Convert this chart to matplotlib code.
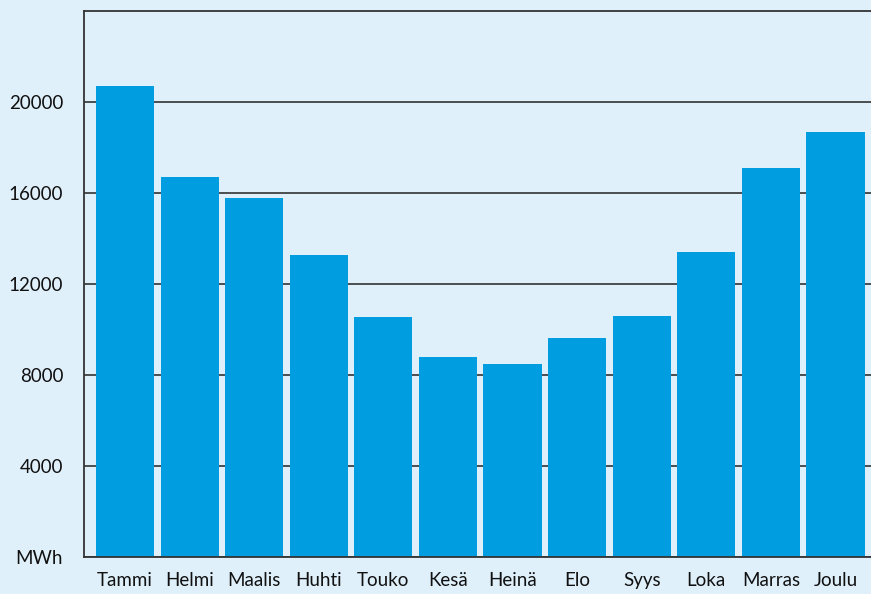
import matplotlib
matplotlib.use("Agg")
import matplotlib.pyplot as plt

months = ["Tammi", "Helmi", "Maalis", "Huhti", "Touko", "Kesä", "Heinä",
          "Elo", "Syys", "Loka", "Marras", "Joulu"]
values = [20700, 16700, 15800, 13280, 10550, 8790, 8480, 9620, 10590, 13400, 17100, 18680]
yticks = [0, 4000, 8000, 12000, 16000, 20000]
ytick_labels = ["MWh", "4000", "8000", "12000", "16000", "20000"]

bg = "#dff0fb"
bar_color = "#009ee0"
line_color = "#333333"

plt.rcParams['font.family'] = ['Lato', 'DejaVu Sans']

fig = plt.figure(figsize=(8.71, 5.94), dpi=100, facecolor=bg)
ax = fig.add_axes([84/871, 1 - 557/594, 1 - 84/871, (557 - 11)/594])
ax.set_facecolor(bg)

x = list(range(len(months)))
ax.bar(x, values, width=0.9, color=bar_color, zorder=3)

ax.set_xlim(-0.635, 11.55)
ax.set_ylim(0, 24000)
ax.set_yticks(yticks)
ax.set_yticklabels(ytick_labels, fontsize=13.5)
ax.set_xticks(x)
ax.set_xticklabels(months, fontsize=13.5)
ax.tick_params(axis='both', length=0, colors="#111111")
ax.tick_params(axis='x', pad=10.5)
ax.tick_params(axis='y', pad=15)

ax.yaxis.grid(True, color=line_color, linewidth=1.2, zorder=1)
ax.set_axisbelow(True)
ax.spines["right"].set_visible(False)
for s in ["left", "top", "bottom"]:
    ax.spines[s].set_color(line_color)
    ax.spines[s].set_linewidth(1.3)
    ax.spines[s].set_zorder(4)

fig.savefig("out.png", dpi=100, facecolor=bg)
